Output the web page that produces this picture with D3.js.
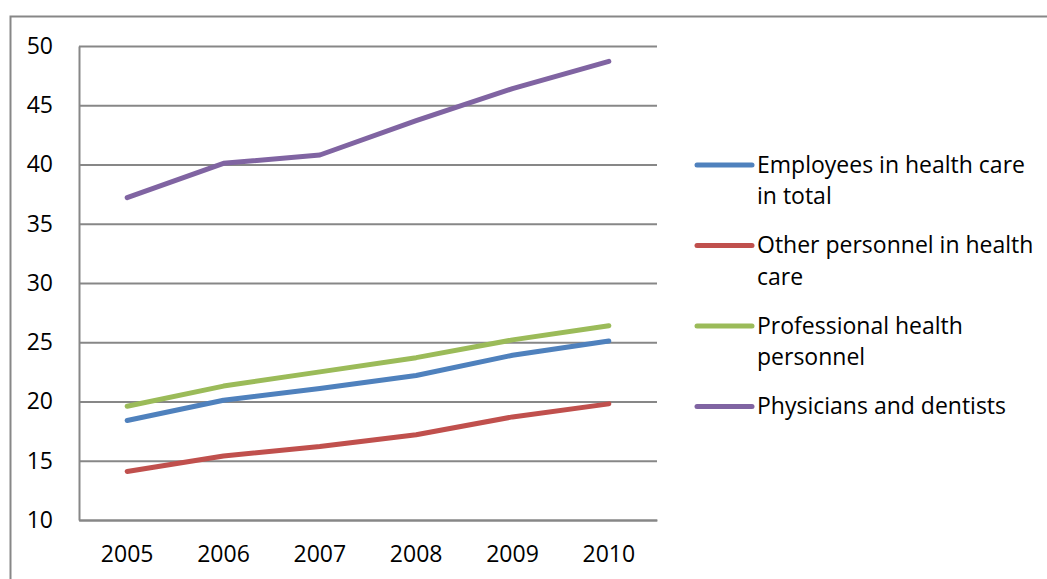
<!DOCTYPE html>
<html>
<head>
<meta charset="utf-8">
<script src="https://cdn.jsdelivr.net/npm/d3@7"></script>
<style>
  html, body { margin: 0; padding: 0; background: #fff; }
  svg { display: block; }
  text { font-family: "Open Sans", "Noto Sans", sans-serif; fill: #000; }
</style>
</head>
<body>
<svg id="chart" width="1047" height="579"></svg>
<script>
const years = ["2005", "2006", "2007", "2008", "2009", "2010"];
const seriesNames = [
  "Employees in health care in total",
  "Other personnel in health care",
  "Professional health personnel",
  "Physicians and dentists"
];
const employeesTotal = [18.4, 20.1, 21.1, 22.2, 23.9, 25.1];
const otherPersonnel = [14.1, 15.4, 16.2, 17.2, 18.7, 19.8];
const professionalPersonnel = [19.6, 21.3, 22.5, 23.7, 25.2, 26.4];
const physiciansDentists = [37.2, 40.1, 40.8, 43.7, 46.4, 48.7];
const yTicks = [10, 15, 20, 25, 30, 35, 40, 45, 50];
const seriesColors = ["#4F81BD", "#C0504D", "#9BBB59", "#8064A2"];

const seriesValues = [employeesTotal, otherPersonnel, professionalPersonnel, physiciansDentists];

const svg = d3.select("#chart");
const plot = { left: 79, right: 657, top: 46, bottom: 520 };
const gridColor = "#878787";
const fontSize = 23;
const fontFamily = '"Open Sans", "Noto Sans", sans-serif';

// outer chart border (extends beyond the visible area)
svg.append("path")
  .attr("d", "M10.5,579 V16.5 H1047")
  .attr("fill", "none")
  .attr("stroke", gridColor)
  .attr("stroke-width", 2);

const x = d3.scaleBand().domain(years).range([plot.left, plot.right]).padding(0);
const y = d3.scaleLinear().domain([10, 50]).range([plot.bottom, plot.top]);

// gridlines
const grid = svg.append("g")
  .attr("transform", `translate(${plot.left},0)`)
  .call(d3.axisLeft(y).tickValues(yTicks).tickSize(-(plot.right - plot.left)).tickFormat(""));
grid.select(".domain").remove();
grid.selectAll(".tick line").attr("stroke", gridColor).attr("stroke-width", 2);

// y axis labels
const yAxis = svg.append("g")
  .attr("transform", `translate(${plot.left},0)`)
  .call(d3.axisLeft(y).tickValues(yTicks).tickSize(0).tickPadding(26).tickFormat(d3.format("d")));
yAxis.select(".domain").attr("stroke", gridColor).attr("stroke-width", 2);
yAxis.selectAll("text").attr("font-size", fontSize).style("font-family", fontFamily).attr("fill", "#000");

// x axis
const xAxis = svg.append("g")
  .attr("transform", `translate(0,${plot.bottom})`)
  .call(d3.axisBottom(x).tickSize(0).tickPadding(26));
xAxis.select(".domain").attr("stroke", gridColor).attr("stroke-width", 2);
xAxis.selectAll("text").attr("font-size", fontSize).style("font-family", fontFamily).attr("fill", "#000");

// lines
const line = d3.line()
  .x((d, i) => x(years[i]) + x.bandwidth() / 2)
  .y(d => y(d));

seriesValues.forEach((vals, k) => {
  svg.append("path")
    .datum(vals)
    .attr("d", line)
    .attr("fill", "none")
    .attr("stroke", seriesColors[k])
    .attr("stroke-width", 5)
    .attr("stroke-linecap", "round")
    .attr("stroke-linejoin", "round");
});

// legend
const legendX = 697, legendLineLen = 55, legendTextX = 757;
const legendY0 = 165, legendStep = 80.5, lineHeight = 31.6, maxTextWidth = 284;
const legend = svg.append("g");
seriesNames.forEach((name, k) => {
  const cy = legendY0 + k * legendStep;
  legend.append("line")
    .attr("x1", legendX).attr("x2", legendX + legendLineLen)
    .attr("y1", cy).attr("y2", cy)
    .attr("stroke", seriesColors[k]).attr("stroke-width", 5)
    .attr("stroke-linecap", "round");
  const t = legend.append("text")
    .attr("x", legendTextX).attr("y", cy + 7.5)
    .attr("font-size", fontSize);
  // greedy word wrap
  const words = name.split(" ");
  let lines = [], cur = "";
  const probe = legend.append("text").attr("font-size", fontSize).attr("visibility", "hidden");
  words.forEach(w => {
    const test = cur ? cur + " " + w : w;
    probe.text(test);
    if (probe.node().getComputedTextLength() > maxTextWidth && cur) {
      lines.push(cur); cur = w;
    } else cur = test;
  });
  lines.push(cur);
  probe.remove();
  lines.forEach((ln, i) => {
    t.append("tspan").attr("x", legendTextX).attr("dy", i === 0 ? 0 : lineHeight).text(ln);
  });
});
</script>
</body>
</html>
